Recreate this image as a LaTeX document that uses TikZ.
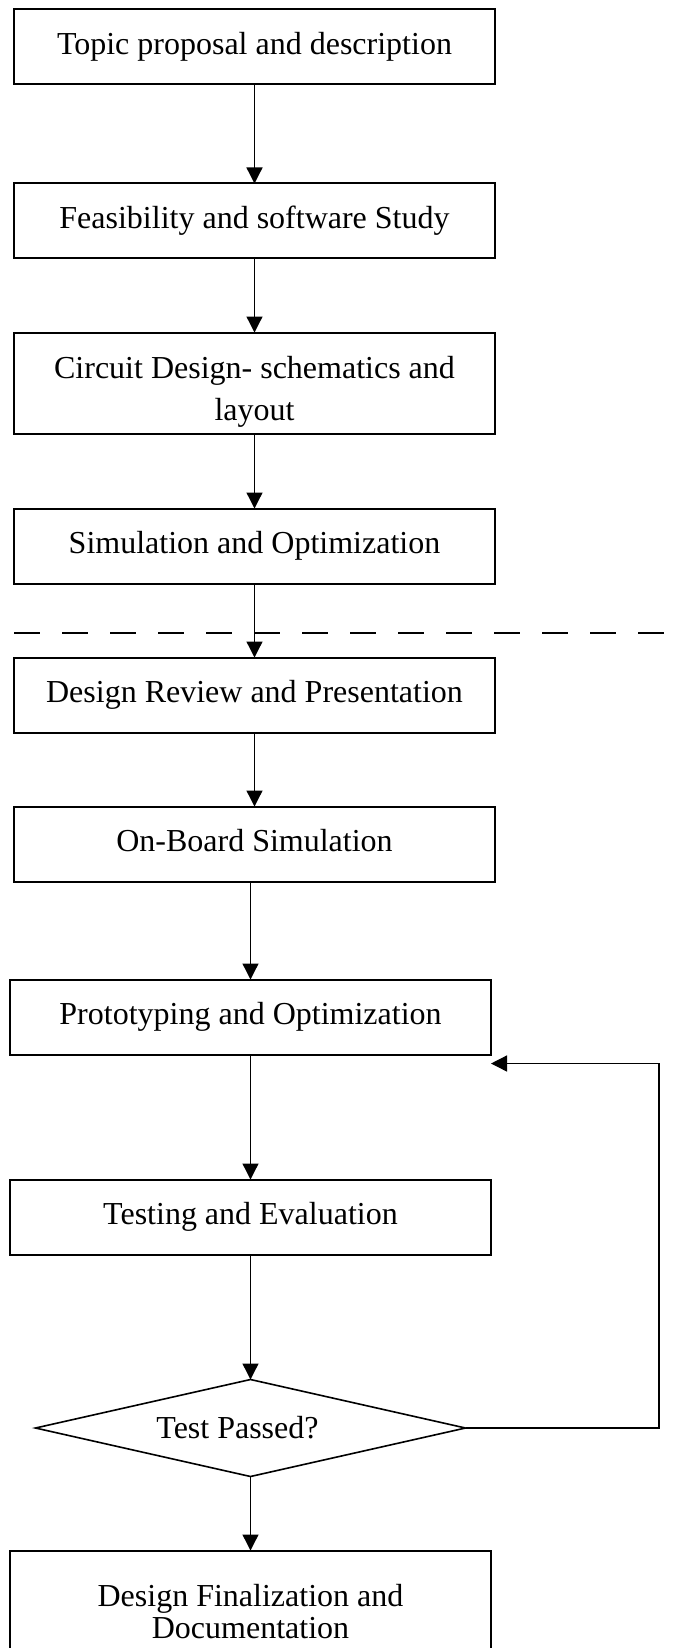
\documentclass[tikz,border=0pt]{standalone}
\usepackage{fontspec}
\setmainfont{Liberation Serif}
\usetikzlibrary{positioning,arrows.meta,shapes.geometric}
\tikzset{
  stage/.style={draw,line width=1pt,align=center,minimum width=240.5pt,minimum height=37.5pt,inner sep=0pt,outer sep=0pt,text height=11pt,text depth=3.5pt,font=\fontsize{16pt}{21pt}\selectfont},
  check/.style={draw,diamond,aspect=4.4,line width=0.8pt,minimum width=215pt,minimum height=48.5pt,inner sep=0pt,outer sep=0pt,font=\fontsize{16pt}{21pt}\selectfont},
  flow/.style={-{Triangle[length=8pt,width=8pt]},line width=0.65pt},
  divider/.style={line width=1pt,dash pattern=on 13pt off 11pt},
}

\begin{document}
\begin{tikzpicture}[node distance=37pt]
  \useasboundingbox (0,0) rectangle (338.5pt,-824pt);
  \node[stage] (topic) at (127.25pt,-23.5pt) {Topic proposal and description};
  \node[stage,below=49.5pt of topic] (feas) {Feasibility and software Study};
  \node[stage,below=of feas,minimum height=50.5pt,text height=40.5pt] (circuit) {Circuit Design- schematics and\\layout};
  \node[stage,below=37.5pt of circuit] (simopt) {Simulation and Optimization};
  \node[stage,below=of simopt] (review) {Design Review and Presentation};
  \node[stage,below=of review] (onboard) {On-Board Simulation};
  \node[stage,below=49pt of onboard,xshift=-2pt] (proto) {Prototyping and Optimization};
  \node[stage,below=62.5pt of proto] (test) {Testing and Evaluation};
  \node[check,below=62.5pt of test] (passed) {Test Passed?\hspace*{13pt}};
  \node[stage,below=of passed,minimum height=59pt,text height=32pt,font=\fontsize{16pt}{16pt}\selectfont] (final) {Design Finalization and\\Documentation};
  \coordinate (back) at ([yshift=-4.5pt]proto.south east);
  \draw[divider] (7pt,-316.5pt) -- (338.5pt,-316.5pt);
  \draw[flow] (topic) -- (feas); \draw[flow] (feas) -- (circuit); \draw[flow] (circuit) -- (simopt);
  \draw[flow] (simopt) -- (review); \draw[flow] (review) -- (onboard);
  \draw[flow] (onboard.south -| proto) -- (proto); \draw[flow] (proto) -- (test);
  \draw[flow] (test) -- (passed); \draw[flow] (passed) -- (final);
  \draw[flow] (passed.east) -- ++(96.75pt,0) |- (back);
\end{tikzpicture}
\end{document}
